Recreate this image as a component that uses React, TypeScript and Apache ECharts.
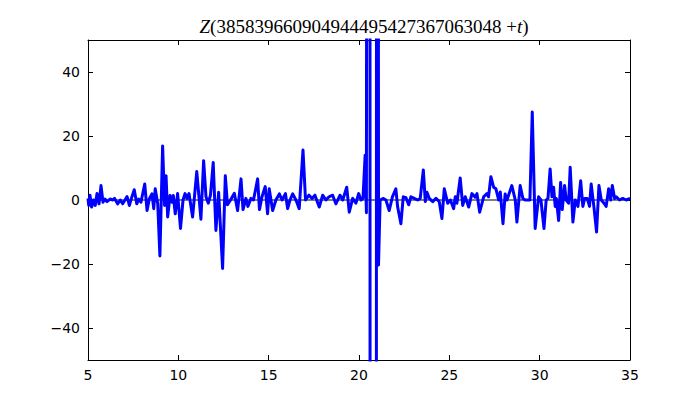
import React, { useEffect, useRef } from "react";
import * as echarts from "echarts";

const titleOffset = "385839660904944495427367063048";
const xRange = [5, 35];
const yRange = [-50, 50];
const xTickStep = 5;
const yTicks = [-40, -20, 0, 20, 40];

// [t, Z(offset + t)]
const zSamples: [number, number][] = [
  [5.0, 0.5], [5.04, -1.7], [5.11, 1.5], [5.2, -2.2], [5.3, 0], [5.4, -1.7], [5.5, 2], [5.61, -1.2],
  [5.72, 4.5], [5.83, -0.7], [5.94, 0.3], [6.05, -0.5], [6.22, 0.3], [6.38, 0], [6.47, 0.5], [6.64, -1.2],
  [6.79, 0], [6.92, -1.2], [7.05, 0], [7.16, 1.1], [7.29, -1.7], [7.42, 0.8], [7.56, 3.2], [7.7, -1.2],
  [7.81, 0.3], [7.93, -0.7], [8.14, 5], [8.27, -3.3], [8.39, 0.3], [8.54, 1.9], [8.64, -2.7], [8.72, 3.5],
  [8.86, -1.2], [8.98, -17.5], [9.13, 16.9], [9.24, -1.7], [9.32, 7.6], [9.41, -5.3], [9.54, 1.4], [9.65, -0.7],
  [9.72, 1.4], [9.83, -4.3], [9.96, 2], [10.12, -8.9], [10.26, 0], [10.37, 2], [10.48, 0.5], [10.59, 2],
  [10.79, -5.3], [11.02, 8.9], [11.25, -6], [11.4, 12.3], [11.53, 1], [11.66, -1], [11.78, 1.5], [11.93, 11.7],
  [12.08, -9.5], [12.23, 2.4], [12.45, -21.4], [12.6, 7.6], [12.72, -1.5], [12.89, 0], [13.1, 2.1], [13.28, -3.3],
  [13.47, 6.6], [13.58, -3], [13.74, 0.5], [13.85, -2], [14.02, 0.5], [14.16, 0], [14.39, 6.6], [14.49, -3],
  [14.63, 1], [14.81, 4.2], [14.94, -4.3], [15.03, 3.5], [15.22, -3.3], [15.4, 0], [15.59, 1.9], [15.74, 0],
  [15.93, 2], [16.05, -2.7], [16.18, 0], [16.33, 1.9], [16.51, 0], [16.69, -2.7], [16.9, 15.6], [17.04, 0],
  [17.23, 1.5], [17.4, 0.5], [17.56, 1.5], [17.8, -2.2], [17.99, 1.5], [18.17, 0], [18.34, 1], [18.54, 1.5],
  [18.72, -1.2], [18.95, 1.5], [19.1, 0], [19.32, 4], [19.46, -3.8], [19.65, 0.5], [19.83, -1], [19.98, 2],
  [20.11, 0], [20.22, 0.5], [20.34, 14], [20.41, -4], [20.47, 400], [20.6, 400], [20.62, -400], [20.95, -400],
  [20.98, 400], [21.05, 400], [21.08, -20.3], [21.17, 0], [21.35, 0.5], [21.49, 0], [21.67, -3.3], [21.85, 1],
  [22.04, 3.5], [22.14, -2.2], [22.32, -7.4], [22.45, 1], [22.6, 0.7], [22.75, -1.5], [22.87, 1], [23.06, 0.5],
  [23.25, 0], [23.39, 0.5], [23.56, 9.4], [23.67, -0.5], [23.76, 2.4], [23.89, 0.5], [24.08, -0.5], [24.26, 0.5],
  [24.44, -0.5], [24.59, -5.8], [24.72, 3.5], [24.91, -1], [25.06, 0], [25.24, -2.7], [25.33, 1], [25.42, -1],
  [25.6, 6.9], [25.74, -1.7], [25.88, 1], [26.07, -2.2], [26.25, 2], [26.43, 0.9], [26.53, 2], [26.68, -3.8],
  [26.9, 1], [27.08, 2], [27.17, 1], [27.3, 7.3], [27.45, 4], [27.58, 3.5], [27.73, 0], [27.82, 2.5],
  [27.97, -7.4], [28.09, 1.9], [28.19, 0], [28.46, 4.5], [28.65, 0], [28.74, -6.9], [28.92, 4.5], [29.07, 0.5],
  [29.2, 0], [29.46, 0], [29.59, 27.5], [29.75, -8.9], [29.94, 1], [30.07, 0], [30.24, -8.9], [30.36, 0],
  [30.46, 0.5], [30.58, 9.7], [30.68, 1], [30.77, 4], [30.86, -2], [30.92, 0.5], [31.05, -6.4], [31.16, 5.5],
  [31.25, -3], [31.38, 4.5], [31.47, 0], [31.6, -1], [31.69, 10.2], [31.84, -6.9], [31.97, 0], [32.12, -2],
  [32.27, 6], [32.39, -2], [32.49, 0.5], [32.63, 0.5], [32.76, -2], [32.85, 5], [33.0, -2], [33.15, -10],
  [33.28, 4.5], [33.41, 0], [33.56, -1], [33.68, -2], [33.82, 3.5], [33.93, 0], [34.02, 4.5], [34.15, 0.5],
  [34.24, 1], [34.42, 0], [34.6, 0.5], [34.79, 0], [35.0, 0.5],
];

const minus = (v: number) => (v < 0 ? "\u2212" + Math.abs(v) : String(v));

export default function App() {
  const ref = useRef<HTMLDivElement>(null);
  useEffect(() => {
    if (!ref.current) return;
    const chart = echarts.init(ref.current, null, { renderer: "svg" });
    const tickFont = { fontFamily: "DejaVu Sans", fontSize: 14, color: "#000" };
    const axisLine = { show: true, onZero: false, lineStyle: { color: "#000", width: 1 } };
    const tick = { show: true, inside: true, length: 5, lineStyle: { color: "#000", width: 1 } };
    chart.setOption({
      animation: false,
      backgroundColor: "#fff",
      title: {
        text: `{i|Z}{n|(${titleOffset}}{n| +}{i|t}{n|)}`,
        left: 359,
        top: 12,
        textAlign: "center",
        textStyle: {
          fontWeight: "normal",
          rich: {
            i: { fontFamily: "Liberation Serif", fontStyle: "italic", fontWeight: "normal", fontSize: 19, color: "#000" },
            n: { fontFamily: "Liberation Serif", fontWeight: "normal", fontSize: 19, color: "#000" },
          },
        },
      },
      grid: { left: 88, right: 70, top: 40, bottom: 40, containLabel: false },
      xAxis: [
        {
          type: "value", min: xRange[0], max: xRange[1], interval: xTickStep, position: "bottom",
          axisLine, axisTick: tick, splitLine: { show: false },
          axisLabel: { ...tickFont, margin: 8 },
        },
        {
          type: "value", min: xRange[0], max: xRange[1], interval: xTickStep, position: "top",
          axisLine, axisTick: tick, splitLine: { show: false }, axisLabel: { show: false },
        },
      ],
      yAxis: [
        {
          type: "value", min: yRange[0], max: yRange[1], position: "left",
          axisLine, axisTick: { ...tick, customValues: yTicks }, splitLine: { show: false },
          axisLabel: { ...tickFont, margin: 8, customValues: yTicks, formatter: minus },
        },
        {
          type: "value", min: yRange[0], max: yRange[1], position: "right",
          axisLine, axisTick: { ...tick, customValues: yTicks }, splitLine: { show: false },
          axisLabel: { show: false, customValues: yTicks },
        },
      ],
      series: [
        {
          type: "line", z: 1, silent: true, showSymbol: false, symbol: "none",
          data: [[xRange[0], 0], [xRange[1], 0]],
          lineStyle: { color: "#000", width: 1 },
        },
        {
          type: "line", z: 2, showSymbol: false, symbol: "none", clip: true,
          data: zSamples,
          lineStyle: { color: "#0000ff", width: 3, join: "round" },
        },
      ],
    });
    return () => chart.dispose();
  }, []);
  return <div ref={ref} style={{ width: 700, height: 400, position: "absolute", left: 0, top: 0 }} />;
}
